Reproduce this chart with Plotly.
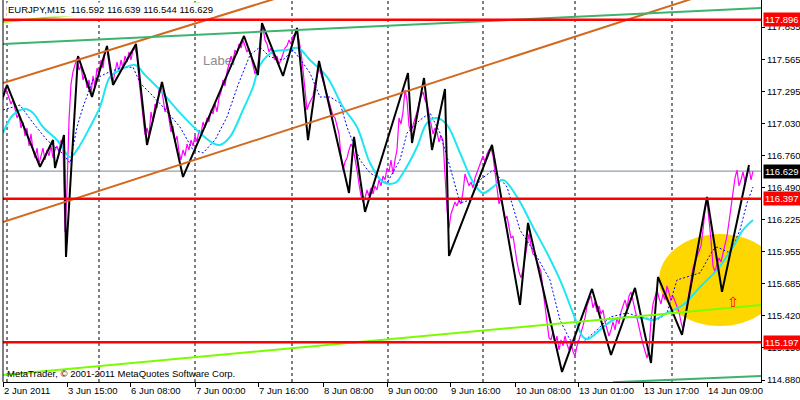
import plotly.graph_objects as go

# ---------------- data ----------------
# bar index (15-minute bars, 0 = first visible bar)
tick_bars = [0, 64, 127, 192, 255, 320, 384, 447, 512, 575, 640, 704]
tick_labels = ["2 Jun 2011", "3 Jun 15:00", "6 Jun 08:00", "7 Jun 00:00", "7 Jun 16:00",
               "8 Jun 08:00", "9 Jun 00:00", "9 Jun 16:00", "10 Jun 08:00", "13 Jun 01:00",
               "13 Jun 17:00", "14 Jun 09:00"]
day_separators = [4, 96, 192, 289, 385, 480, 572, 669]

price_ticks = [114.880, 115.150, 115.420, 115.685, 115.955, 116.225, 116.490,
               116.760, 117.030, 117.295, 117.565, 117.835]
price_tick_labels = ["114.880", "115.150", "115.420", "115.685", "115.955", "116.225",
                     "116.490", "116.760", "117.030", "117.295", "117.565", "117.835"]

close_bars = list(range(0, 751, 2))
close_prices = [
    117.224, 117.325, 117.291, 117.241, 117.191, 117.224, 117.141, 117.074, 117.107, 116.990,
    117.040, 116.923, 116.990, 116.839, 116.940, 116.806, 116.739, 116.822, 116.689, 116.756,
    116.822, 116.722, 116.806, 116.756, 116.839, 116.739, 116.806, 116.839, 116.789, 116.889,
    116.856, 116.120, 116.471, 117.057, 117.358, 117.459, 117.525, 117.576, 117.475, 117.509,
    117.392, 117.442, 117.325, 117.392, 117.274, 117.425, 117.341, 117.492, 117.442, 117.559,
    117.492, 117.626, 117.643, 117.542, 117.408, 117.375, 117.475, 117.542, 117.459, 117.559,
    117.492, 117.592, 117.542, 117.626, 117.559, 117.643, 117.659, 117.592, 117.392, 117.224,
    117.074, 116.931, 116.990, 116.923, 117.124, 117.040, 117.191, 117.157, 117.308, 117.341,
    117.241, 117.124, 117.174, 117.040, 116.956, 117.007, 116.873, 116.923, 116.789, 116.722,
    116.806, 116.756, 116.856, 116.806, 116.889, 116.839, 116.923, 116.873, 116.973, 116.940,
    117.040, 116.990, 117.074, 117.040, 117.141, 117.107, 117.191, 117.124, 117.241, 117.291,
    117.392, 117.341, 117.459, 117.525, 117.592, 117.542, 117.643, 117.609, 117.693, 117.659,
    117.726, 117.676, 117.626, 117.659, 117.592, 117.509, 117.442, 117.475, 117.592, 117.810,
    117.827, 117.726, 117.693, 117.626, 117.659, 117.609, 117.559, 117.592, 117.525, 117.559,
    117.609, 117.659, 117.676, 117.726, 117.693, 117.760, 117.776, 117.793, 117.726, 117.626,
    117.475, 117.291, 117.141, 117.191, 117.224, 117.258, 117.358, 117.425, 117.492, 117.442,
    117.375, 117.325, 117.274, 117.207, 117.141, 117.090, 117.074, 117.007, 116.940, 116.756,
    116.638, 116.705, 116.739, 116.806, 116.856, 116.822, 116.739, 116.638, 116.521, 116.421,
    116.371, 116.404, 116.471, 116.421, 116.488, 116.438, 116.505, 116.471, 116.555, 116.505,
    116.588, 116.555, 116.655, 116.622, 116.722, 116.605, 116.722, 116.806, 117.074, 117.023,
    117.124, 117.308, 117.224, 117.007, 116.956, 117.007, 117.074, 117.124, 117.191, 117.258,
    117.291, 117.224, 117.191, 117.107, 117.023, 116.940, 116.990, 116.956, 116.873, 116.923,
    116.889, 116.638, 116.304, 116.153, 116.270, 116.320, 116.371, 116.337, 116.387, 116.354,
    116.454, 116.605, 116.555, 116.505, 116.538, 116.488, 116.572, 116.622, 116.672, 116.722,
    116.756, 116.705, 116.772, 116.806, 116.822, 116.756, 116.622, 116.471, 116.354, 116.404,
    116.304, 116.220, 116.253, 116.153, 116.069, 116.086, 115.969, 115.869, 115.785, 115.735,
    115.802, 115.902, 116.019, 116.103, 116.003, 115.936, 115.919, 115.869, 115.818, 115.785,
    115.634, 115.500, 115.367, 115.233, 115.216, 115.283, 115.182, 115.249, 115.132, 115.216,
    115.166, 115.249, 115.182, 115.132, 115.199, 115.116, 115.082, 115.166, 115.216, 115.266,
    115.333, 115.400, 115.500, 115.551, 115.584, 115.484, 115.534, 115.450, 115.500, 115.433,
    115.467, 115.367, 115.300, 115.249, 115.300, 115.367, 115.300, 115.400, 115.350, 115.450,
    115.500, 115.551, 115.484, 115.584, 115.618, 115.534, 115.467, 115.400, 115.316, 115.249,
    115.182, 115.116, 115.065, 115.132, 115.383, 115.517, 115.584, 115.634, 115.567, 115.517,
    115.601, 115.551, 115.668, 115.618, 115.551, 115.584, 115.534, 115.500, 115.450, 115.367,
    115.300, 115.400, 115.500, 115.584, 115.701, 115.818, 115.869, 115.919, 115.969, 116.003,
    116.136, 116.304, 116.387, 116.237, 116.053, 115.835, 115.785, 115.852, 115.902, 115.869,
    115.936, 116.003, 116.086, 116.203, 116.337, 116.454, 116.572, 116.638, 116.505, 116.555,
    116.622, 116.538, 116.588, 116.655, 116.555, 116.629,
]

ma_fast_bars = [0, 17, 30, 44, 59, 67, 74, 80, 90, 104, 117, 130, 137, 147, 160, 177, 190, 200,
                212, 224, 235, 247, 257, 267, 280, 290, 300, 307, 317, 327, 337, 344, 357, 367,
                384, 397, 404, 417, 427, 437, 447, 457, 467, 477, 490, 504, 517, 530, 547, 557,
                567, 580, 594, 607, 624, 637, 654, 664, 674, 684, 697, 710, 714, 727, 737, 744, 750]
ma_fast = [117.141, 117.182, 117.032, 116.889, 116.781, 116.697, 116.998, 117.166, 117.392,
           117.450, 117.492, 117.500, 117.366, 117.283, 117.166, 116.998, 116.806, 116.781,
           116.889, 117.082, 117.350, 117.601, 117.668, 117.584, 117.559, 117.643, 117.534,
           117.450, 117.249, 117.249, 117.199, 116.998, 116.722, 116.613, 116.530, 116.722,
           116.948, 117.057, 117.116, 116.948, 116.664, 116.362, 116.387, 116.555, 116.638,
           116.496, 116.136, 115.969, 115.718, 115.383, 115.216, 115.199, 115.300, 115.408,
           115.442, 115.408, 115.383, 115.442, 115.718, 115.743, 115.777, 115.969, 115.994,
           115.944, 116.136, 116.362, 116.496]

ma_slow_bars = [0, 10, 22, 30, 40, 54, 67, 74, 87, 97, 107, 117, 132, 142, 157, 177, 197, 210,
                217, 227, 240, 250, 257, 270, 284, 295, 307, 324, 340, 354, 367, 380, 392, 400,
                414, 424, 434, 444, 457, 470, 480, 490, 500, 514, 530, 544, 557, 570, 580, 585,
                597, 610, 624, 640, 650, 664, 680, 697, 714, 730, 740, 750]
ma_slow = [116.948, 117.099, 117.149, 117.116, 116.998, 116.889, 116.747, 116.806, 116.998,
           117.166, 117.417, 117.475, 117.517, 117.433, 117.308, 117.116, 116.948, 116.864,
           116.848, 116.915, 117.141, 117.333, 117.517, 117.626, 117.643, 117.659, 117.559,
           117.417, 117.166, 116.998, 116.697, 116.538, 116.530, 116.613, 116.831, 117.032,
           117.074, 117.015, 116.781, 116.538, 116.446, 116.496, 116.555, 116.413, 116.161,
           115.944, 115.718, 115.442, 115.241, 115.224, 115.300, 115.383, 115.408, 115.400,
           115.383, 115.442, 115.509, 115.659, 115.802, 115.994, 116.136, 116.220]

zigzag_bars = [0, 4, 37, 50, 52, 61, 63, 75, 89, 104, 110, 133, 144, 159, 180, 241, 255, 259,
               280, 294, 305, 316, 346, 351, 362, 405, 409, 421, 429, 442, 446, 489, 517, 525,
               559, 589, 608, 632, 648, 655, 679, 704, 719, 746]
zigzag = [117.250, 117.350, 116.665, 116.889, 116.655, 116.931, 115.911, 117.592, 117.250,
          117.676, 117.350, 117.693, 116.848, 117.375, 116.580, 117.760, 117.433, 117.868,
          117.425, 117.827, 116.889, 117.551, 116.446, 116.915, 116.287, 117.450, 116.864,
          117.408, 116.806, 117.316, 115.919, 116.848, 115.509, 116.195, 114.948, 115.643,
          115.090, 115.651, 115.023, 115.743, 115.258, 116.412, 115.618, 116.680]

# trend lines: (bar, price) endpoints
channel_up_bars, channel_up = [0, 300], [117.366, 118.144]
channel_dn_bars, channel_dn = [0, 700], [116.203, 118.101]
green_up_bars, green_up = [0, 758], [117.693, 117.994]
green_dn_bars, green_dn = [610, 758], [114.861, 114.915]
lime_dn_bars, lime_dn = [0, 758], [114.923, 115.509]
lime_up_bars, lime_up = [0, 197], [117.877, 118.036]

levels = [117.896, 116.397, 115.197]
last_price = 116.629
ellipse_bars, ellipse_prices = [656, 778], [115.333, 116.103]
arrow_bar, arrow_price = 730, 115.534
label_bar, label_price = 200, 117.542

title_text = "EURJPY,M15  116.592 116.639 116.544 116.629"
copyright_text = "MetaTrader, © 2001-2011 MetaQuotes Software Corp."

# ---------------- figure ----------------
FONT = "Liberation Sans"
X_RANGE = [0, 758]
Y_RANGE = [114.864, 118.061]

fig = go.Figure()

fig.add_trace(go.Scatter(x=[label_bar], y=[label_price], mode="text", text=["Label"],
                         textposition="middle right",
                         textfont=dict(family=FONT, size=13, color="#8c8c8c"),
                         hoverinfo="skip"))
fig.add_trace(go.Scatter(x=X_RANGE, y=[last_price, last_price], mode="lines",
                         line=dict(color="#778899", width=1), hoverinfo="skip"))
fig.add_trace(go.Scatter(x=close_bars, y=close_prices, mode="lines",
                         line=dict(color="#FF00FF", width=1.2)))
fig.add_trace(go.Scatter(x=ma_fast_bars, y=ma_fast, mode="lines",
                         line=dict(color="#0000FF", width=1, dash="2px,2px")))
fig.add_trace(go.Scatter(x=ma_slow_bars, y=ma_slow, mode="lines",
                         line=dict(color="#1EE6F2", width=2, shape="spline")))
fig.add_trace(go.Scatter(x=zigzag_bars, y=zigzag, mode="lines",
                         line=dict(color="#000000", width=2)))

for bx, py, col in [(channel_up_bars, channel_up, "#D2691E"),
                    (channel_dn_bars, channel_dn, "#D2691E"),
                    (green_up_bars, green_up, "#3CB371"),
                    (green_dn_bars, green_dn, "#3CB371"),
                    (lime_dn_bars, lime_dn, "#7CFC00"),
                    (lime_up_bars, lime_up, "#7CFC00")]:
    fig.add_trace(go.Scatter(x=bx, y=py, mode="lines", line=dict(color=col, width=2),
                             hoverinfo="skip"))

for lv in levels:
    fig.add_trace(go.Scatter(x=X_RANGE, y=[lv, lv], mode="lines",
                             line=dict(color="#FF0000", width=2.5), hoverinfo="skip"))

shapes = []
for d in day_separators:
    shapes.append(dict(type="line", xref="x", yref="paper", x0=d, x1=d, y0=0, y1=1,
                       line=dict(color="black", width=1, dash="3px,3px"), layer="below"))
shapes.append(dict(type="circle", xref="x", yref="y",
                   x0=ellipse_bars[0], x1=ellipse_bars[1],
                   y0=ellipse_prices[0], y1=ellipse_prices[1],
                   fillcolor="#FFD700", line=dict(width=0), layer="below"))
shapes.append(dict(type="line", xref="paper", yref="paper", x0=0, x1=0, y0=0, y1=1,
                   line=dict(color="black", width=1), layer="above"))

annotations = [
    dict(text=title_text, xref="paper", yref="paper", x=0, y=1, xanchor="left", yanchor="top",
         xshift=3, yshift=-2, showarrow=False, bgcolor="white", borderpad=1,
         font=dict(family=FONT, size=9.5, color="black")),
    dict(text=copyright_text, xref="paper", yref="paper", x=0, y=0, xanchor="left",
         yanchor="bottom", xshift=2, yshift=1, showarrow=False,
         font=dict(family=FONT, size=9.5, color="black")),
    dict(text="⇧", xref="x", yref="y", x=arrow_bar, y=arrow_price, showarrow=False,
         font=dict(family="DejaVu Sans", size=14, color="#FF0000")),
]
for lv in levels:
    annotations.append(dict(text=f"{lv:.3f}", xref="paper", yref="y", x=1, y=lv,
                            xanchor="left", yanchor="middle", xshift=2, showarrow=False,
                            bgcolor="#FF0000", borderpad=1,
                            font=dict(family=FONT, size=9.5, color="white")))
annotations.append(dict(text=f"{last_price:.3f}", xref="paper", yref="y", x=1, y=last_price,
                        xanchor="left", yanchor="middle", xshift=2, showarrow=False,
                        bgcolor="#000000", borderpad=1,
                        font=dict(family=FONT, size=9.5, color="white")))

fig.update_layout(
    width=800, height=400,
    margin=dict(l=3, r=39, t=0, b=18, pad=0),
    paper_bgcolor="white", plot_bgcolor="white",
    showlegend=False,
    shapes=shapes, annotations=annotations,
    font=dict(family=FONT, size=9.5, color="black"),
    xaxis=dict(range=X_RANGE, tickvals=tick_bars, ticktext=tick_labels, tickangle=0,
               ticks="outside", ticklen=4, tickcolor="black", showline=True,
               linecolor="black", linewidth=1, showgrid=False, zeroline=False,
               ticklabelposition="outside right", automargin=False,
               tickfont=dict(family=FONT, size=9.5, color="black")),
    yaxis=dict(range=Y_RANGE, side="right", tickvals=price_ticks, ticktext=price_tick_labels,
               ticks="outside", ticklen=3, tickcolor="black", showline=True,
               linecolor="black", linewidth=1, showgrid=False, zeroline=False,
               automargin=False, tickfont=dict(family=FONT, size=9.5, color="black")),
)

fig.write_html("out.html", config={"displayModeBar": False},
               post_script="document.body.style.margin='0';document.body.style.padding='0';"
                           "document.body.style.overflow='hidden';")
